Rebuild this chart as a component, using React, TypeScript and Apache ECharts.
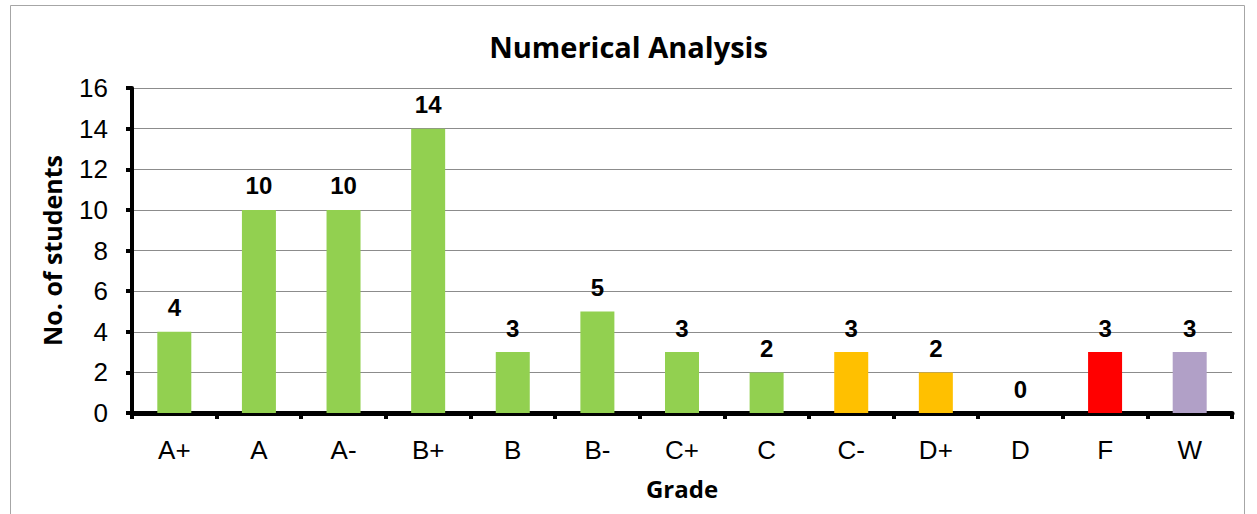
import React, { useEffect, useRef } from "react";
import * as echarts from "echarts";

const categories = ["A+", "A", "A-", "B+", "B", "B-", "C+", "C", "C-", "D+", "D", "F", "W"];
const students = [4, 10, 10, 14, 3, 5, 3, 2, 3, 2, 0, 3, 3];
const barColors = [
  "#92D050", "#92D050", "#92D050", "#92D050", "#92D050", "#92D050", "#92D050", "#92D050",
  "#FFC000", "#FFC000", "#FFC000", "#FF0000", "#B1A0C7",
];

export default function App() {
  const ref = useRef<HTMLDivElement>(null);
  useEffect(() => {
    document.body.style.margin = "0";
    const chart = echarts.init(ref.current!, null, { renderer: "svg" });
    chart.setOption({
      animation: false,
      backgroundColor: "#fff",
      title: {
        text: "Numerical Analysis",
        left: "center",
        top: 27,
        textStyle: { fontFamily: "Open Sans", fontWeight: "bold", fontSize: 29, color: "#000" },
      },
      graphic: [
        {
          type: "rect",
          shape: { x: 10.5, y: 5.5, width: 1234, height: 520 },
          style: { fill: "none", stroke: "#a6a6a6", lineWidth: 1 },
          silent: true,
        },
      ],
      grid: { left: 132, right: 25, top: 88, bottom: 101 },
      xAxis: {
        type: "category",
        data: categories,
        name: "Grade",
        nameLocation: "middle",
        nameGap: 63,
        nameTextStyle: { fontFamily: "Open Sans", fontWeight: "bold", fontSize: 24, color: "#000" },
        axisLine: { lineStyle: { color: "#000", width: 5 } },
        axisTick: { show: true, length: 6, lineStyle: { color: "#000", width: 4 } },
        axisLabel: { fontFamily: "Liberation Sans", fontSize: 26, color: "#000", margin: 24 },
      },
      yAxis: {
        type: "value",
        min: 0,
        max: 16,
        interval: 2,
        name: "No. of students",
        nameLocation: "middle",
        nameGap: 68,
        nameRotate: 90,
        nameTextStyle: { fontFamily: "Open Sans", fontWeight: "bold", fontSize: 25, color: "#000" },
        axisLine: { show: true, lineStyle: { color: "#000", width: 4 } },
        axisTick: { show: true, length: 6, lineStyle: { color: "#000", width: 4 } },
        axisLabel: { fontFamily: "Liberation Sans", fontSize: 26, color: "#000", margin: 24 },
        splitLine: { show: true, lineStyle: { color: "#8c8c8c", width: 1 } },
      },
      series: [
        {
          type: "bar",
          data: students.map((v, i) => ({ value: v, itemStyle: { color: barColors[i] } })),
          barWidth: 34,
          label: {
            show: true,
            position: "top",
            distance: 12,
            fontFamily: "Liberation Sans",
            fontWeight: "bold",
            fontSize: 24,
            color: "#000",
          },
        },
      ],
    });
    return () => chart.dispose();
  }, []);
  return <div ref={ref} style={{ width: 1257, height: 514 }} />;
}
